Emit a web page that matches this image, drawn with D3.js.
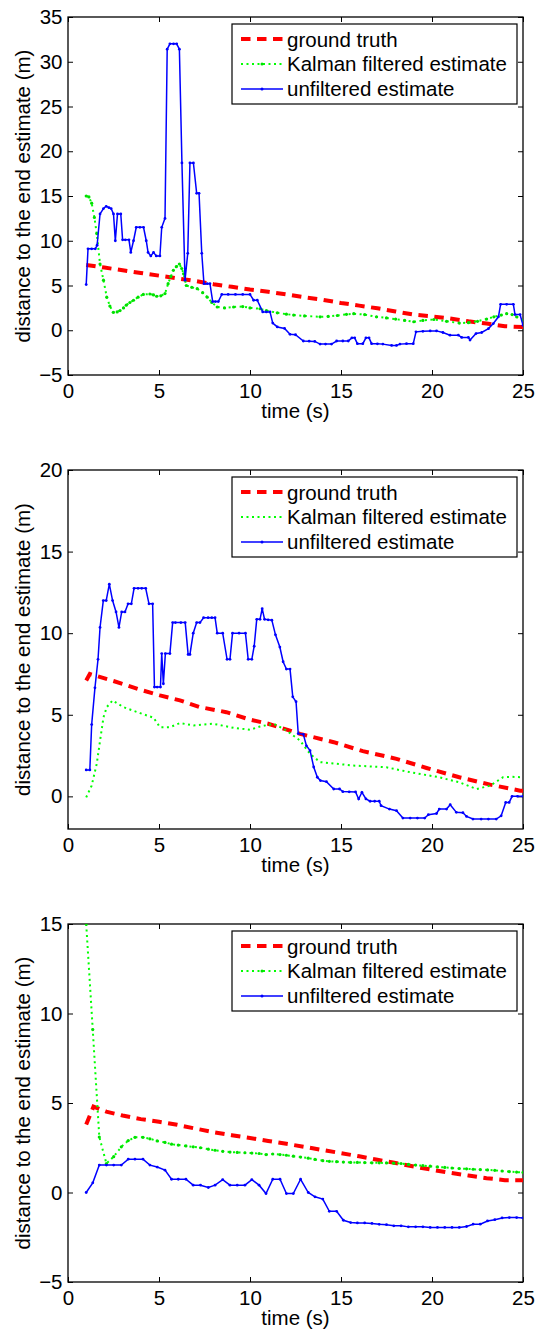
<!DOCTYPE html>
<html><head><meta charset="utf-8">
<script src="https://cdn.jsdelivr.net/npm/d3@7"></script>
<style>
body{margin:0;background:#fff}
svg{display:block}
text{font-family:"Liberation Sans",Arial,Helvetica,sans-serif;fill:#000}
</style>
</head><body>
<svg id="c" width="537" height="1334"></svg>
<script>
// ---------- text ----------
const legendLabels = ["ground truth", "Kalman filtered estimate", "unfiltered estimate"];
const xLabel = "time (s)";
const yLabel = "distance to the end estimate (m)";

// ---------- ticks ----------
const xTicks = [0, 5, 10, 15, 20, 25];
const yTicks1 = [-5, 0, 5, 10, 15, 20, 25, 30, 35];
const yTicks2 = [0, 5, 10, 15, 20];
const yTicks3 = [-5, 0, 5, 10, 15];

// ---------- panel 1 data [time, distance] ----------
const gt1 = [[1,7.3],[2,7.0],[3,6.7],[4,6.4],[5,6.1],[6,5.8],[7,5.5],[8,5.15],[9,4.85],[10,4.55],[11,4.3],[12,4.0],[13,3.68],[14,3.4],[15,3.05],[16,2.75],[17,2.45],[18,2.1],[19,1.75],[20,1.55],[21,1.32],[22,1.0],[23,0.75],[24,0.45],[25,0.35]];
const kf1 = [[1.0,15.0],[1.15,14.9],[1.3,14.2],[1.45,12.6],[1.58,10.8],[1.76,7.4],[1.95,5.6],[2.13,3.7],[2.3,2.7],[2.49,2.0],[2.7,2.05],[2.86,2.2],[3.05,2.5],[3.2,2.8],[3.4,3.1],[3.6,3.35],[3.85,3.7],[4.14,4.0],[4.5,4.05],[4.7,3.95],[4.87,3.8],[5.1,3.85],[5.33,4.1],[5.5,5.2],[5.65,6.0],[5.79,6.7],[5.95,7.1],[6.12,7.4],[6.25,6.9],[6.35,6.3],[6.5,5.0],[6.8,4.8],[7.1,4.65],[7.4,4.2],[7.65,3.7],[7.9,3.1],[8.2,2.6],[8.6,2.5],[9.1,2.6],[9.6,2.65],[10.0,2.5],[10.55,2.4],[10.9,2.2],[11.5,1.95],[12.0,1.8],[12.4,1.7],[13.0,1.6],[13.85,1.5],[14.3,1.55],[14.8,1.65],[15.3,1.78],[15.7,1.85],[16.3,1.75],[16.95,1.5],[17.5,1.38],[18.0,1.25],[18.5,1.1],[19.0,0.95],[19.5,1.1],[20.1,1.2],[20.8,1.0],[21.5,0.8],[22.0,0.85],[22.5,1.0],[23.0,1.25],[23.4,1.5],[23.8,1.7],[24.1,1.85],[24.4,1.75],[24.65,1.5],[25.0,1.1]];
const raw1 = [[1.0,5.1],[1.1,9.1],[1.3,9.1],[1.5,9.1],[1.6,9.5],[1.76,13.0],[1.95,13.6],[2.1,13.85],[2.25,13.7],[2.37,13.6],[2.5,13.0],[2.6,10.0],[2.72,13.0],[2.9,13.0],[3.0,10.1],[3.15,10.1],[3.35,10.1],[3.45,8.7],[3.6,10.0],[3.75,11.5],[3.95,11.5],[4.15,11.5],[4.3,10.0],[4.4,8.7],[4.55,8.3],[4.7,8.7],[4.85,8.3],[5.05,8.3],[5.15,11.5],[5.33,12.5],[5.45,31.4],[5.6,32.0],[5.8,32.0],[5.97,32.0],[6.12,31.4],[6.26,18.7],[6.43,5.6],[6.58,8.6],[6.7,18.7],[6.89,18.7],[7.07,15.3],[7.2,15.3],[7.35,8.6],[7.47,5.2],[7.65,5.2],[7.8,5.2],[7.95,3.2],[8.1,3.2],[8.26,3.2],[8.45,4.0],[8.8,4.0],[9.2,4.0],[9.6,4.0],[10.0,4.0],[10.2,3.35],[10.4,3.35],[10.7,2.05],[10.9,2.05],[11.1,2.05],[11.25,0.8],[11.5,0.37],[11.9,0.2],[12.2,-0.45],[12.5,-0.5],[12.93,-1.2],[13.25,-1.22],[13.56,-1.25],[13.85,-1.55],[14.15,-1.55],[14.48,-1.55],[14.76,-1.2],[15.1,-1.2],[15.4,-1.2],[15.6,-0.85],[15.75,-0.85],[15.9,-1.5],[16.2,-1.5],[16.37,-0.85],[16.54,-0.85],[16.68,-1.5],[17.0,-1.52],[17.3,-1.55],[17.78,-1.7],[18.05,-1.7],[18.24,-1.55],[18.6,-1.5],[18.97,-1.5],[19.12,-0.18],[19.5,-0.12],[19.9,-0.08],[20.25,-0.07],[20.6,-0.25],[20.99,-0.55],[21.45,-0.55],[21.63,-0.8],[22.0,-0.8],[22.09,-1.1],[22.42,-0.37],[22.73,-0.25],[23.1,0.18],[23.37,0.75],[23.65,1.5],[23.77,2.9],[24.1,2.9],[24.47,2.9],[24.56,1.75],[24.84,1.75],[25.0,0.55]];

// ---------- panel 2 data ----------
const gt2 = [[1.0,7.1],[1.2,7.5],[1.5,7.4],[2.5,7.07],[3.96,6.54],[5.05,6.19],[6.15,5.88],[7.25,5.47],[8.7,5.16],[10.0,4.7],[11.0,4.45],[12.75,3.83],[14.6,3.32],[16.2,2.77],[18.05,2.3],[19.7,1.74],[21.5,1.17],[23.2,0.72],[24.84,0.35],[25.0,0.35]];
const kf2 = [[1.0,-0.06],[1.3,0.66],[1.58,2.0],[1.76,3.4],[1.95,4.85],[2.13,5.47],[2.45,5.88],[3.04,5.47],[3.96,5.1],[4.7,4.82],[5.05,4.24],[5.6,4.24],[6.15,4.49],[6.9,4.35],[7.98,4.45],[9.1,4.2],[10.0,4.08],[10.55,4.28],[11.3,4.45],[12.0,4.04],[12.75,3.42],[13.3,2.6],[13.85,2.1],[15.67,1.89],[17.5,1.78],[18.8,1.48],[20.4,1.17],[21.5,0.86],[22.45,0.45],[23.2,0.66],[23.9,1.17],[24.4,1.2],[25.0,1.17]];
const raw2 = [[1.0,1.62],[1.2,1.62],[1.3,4.4],[1.48,6.65],[1.65,8.4],[1.76,10.35],[1.94,12.0],[2.1,12.0],[2.27,13.0],[2.45,12.0],[2.64,11.3],[2.8,10.35],[2.95,11.3],[3.13,11.3],[3.3,11.8],[3.48,11.8],[3.63,12.75],[3.85,12.75],[4.05,12.75],[4.27,12.75],[4.45,11.8],[4.65,11.8],[4.75,6.7],[4.9,6.7],[5.08,6.7],[5.15,8.75],[5.24,6.9],[5.35,8.75],[5.6,8.75],[5.75,10.65],[5.9,10.65],[6.2,10.65],[6.44,10.65],[6.6,8.7],[6.7,8.7],[6.88,10.0],[7.07,10.65],[7.25,10.65],[7.45,10.95],[7.7,10.95],[7.9,10.95],[8.08,10.95],[8.2,10.0],[8.5,10.0],[8.74,8.4],[8.9,8.4],[9.04,10.0],[9.4,10.0],[9.75,10.0],[9.9,8.4],[10.1,8.4],[10.23,9.2],[10.37,10.85],[10.55,10.85],[10.67,11.5],[10.8,10.85],[11.0,10.82],[11.2,10.8],[11.4,9.9],[11.64,9.15],[11.82,8.25],[12.0,7.8],[12.2,7.8],[12.35,6.1],[12.53,5.8],[12.65,3.85],[12.93,3.8],[13.1,3.1],[13.3,2.8],[13.5,1.8],[13.7,1.17],[13.87,0.97],[14.2,0.9],[14.6,0.45],[14.92,0.45],[15.1,0.29],[15.45,0.28],[15.8,0.27],[15.97,-0.16],[16.15,0.25],[16.37,-0.16],[16.6,-0.3],[16.85,-0.3],[17.1,-0.3],[17.2,-0.57],[17.66,-0.78],[18.05,-0.88],[18.4,-1.33],[18.8,-1.33],[19.2,-1.33],[19.6,-1.33],[19.8,-1.12],[20.25,-1.05],[20.4,-0.78],[20.8,-0.78],[21.0,-0.51],[21.34,-0.98],[21.7,-1.0],[21.9,-1.23],[22.25,-1.39],[22.7,-1.39],[23.1,-1.39],[23.53,-1.39],[23.8,-1.19],[24.05,-0.37],[24.24,-0.37],[24.4,0.0],[24.7,0.0],[25.0,0.0]];

// ---------- panel 3 data ----------
const gt3 = [[1,3.8],[1.4,4.8],[2.1,4.52],[3,4.3],[4,4.1],[5,3.95],[6,3.78],[7,3.57],[8,3.37],[9,3.2],[10,3.05],[11,2.88],[12,2.72],[13,2.55],[14,2.37],[15,2.2],[16,2.02],[17,1.83],[18,1.65],[19,1.45],[20,1.27],[21,1.1],[22,0.95],[23,0.8],[24,0.69],[25,0.69]];
const t3 = [1.0,1.36,1.72,2.11,2.51,2.93,3.31,3.68,4.12,4.5,4.9,5.33,5.69,6.06,6.48,6.88,7.28,7.71,8.08,8.5,8.9,9.3,9.72,10.1,10.5,10.88,11.25,11.65,12.0,12.38,12.78,13.2,13.57,14.0,14.36,14.76,15.13,15.53,15.9,16.3,16.7,17.1,17.5,17.9,18.3,18.7,19.1,19.5,19.9,20.3,20.7,21.1,21.5,21.9,22.26,22.65,23.05,23.45,23.85,24.25,24.65,25.0];
const kf3v = [15.0,9.1,3.1,1.62,2.0,2.55,2.9,3.08,3.08,3.0,2.88,2.8,2.7,2.65,2.6,2.55,2.5,2.42,2.36,2.3,2.26,2.24,2.22,2.2,2.18,2.12,2.15,2.12,2.08,2.03,1.98,1.92,1.85,1.78,1.74,1.72,1.7,1.68,1.68,1.67,1.66,1.66,1.65,1.64,1.62,1.57,1.53,1.5,1.47,1.43,1.4,1.37,1.34,1.32,1.3,1.28,1.26,1.24,1.2,1.17,1.14,1.12];
const raw3v = [0,0.54,1.53,1.53,1.53,1.53,1.86,1.86,1.86,1.53,1.42,1.25,0.74,0.74,0.74,0.41,0.41,0.28,0.41,0.72,0.41,0.41,0.41,0.72,0.41,-0.06,0.74,0.74,-0.06,-0.06,0.74,0.0,-0.24,-0.37,-1.05,-1.05,-1.55,-1.68,-1.7,-1.7,-1.73,-1.78,-1.8,-1.86,-1.86,-1.92,-1.92,-1.92,-1.95,-1.95,-1.95,-1.95,-1.95,-1.9,-1.77,-1.77,-1.59,-1.52,-1.42,-1.4,-1.4,-1.42];
const kf3 = d3.zip(t3, kf3v);
const raw3 = d3.zip(t3, raw3v);

// ---------- styles ----------
const RED = "#ff0000", GREEN = "#00ff00", GREEN_M = "#00e000", BLUE = "#0000ff";
const FONT = 20.5;

const svg = d3.select("#c");
const L = 68, R = 523;
const x = d3.scaleLinear().domain([0, 25]).range([L, R]);

const panels = [
  {top: 17,  bottom: 375,  ydom: [-5, 35], yticks: yTicks1, gt: gt1, kf: kf1, raw: raw1, kfMark: true},
  {top: 470, bottom: 829,  ydom: [-2, 20], yticks: yTicks2, gt: gt2, kf: kf2, raw: raw2, kfMark: false},
  {top: 924, bottom: 1282, ydom: [-5, 15], yticks: yTicks3, gt: gt3, kf: kf3, raw: raw3, kfMark: true}
];

panels.forEach((p, i) => {
  const y = d3.scaleLinear().domain(p.ydom).range([p.bottom, p.top]);
  const g = svg.append("g");
  const cid = "clip" + i;
  g.append("clipPath").attr("id", cid).append("rect")
    .attr("x", L).attr("y", p.top).attr("width", R - L).attr("height", p.bottom - p.top);

  const fmt = d3.format("");
  const axB = g.append("g").attr("transform", `translate(0,${p.bottom})`)
    .call(d3.axisBottom(x).tickValues(xTicks).tickSize(-5).tickPadding(8.7).tickFormat(fmt));
  const axT = g.append("g").attr("transform", `translate(0,${p.top})`)
    .call(d3.axisTop(x).tickValues(xTicks).tickSize(-5).tickFormat(""));
  const axLf = g.append("g").attr("transform", `translate(${L},0)`)
    .call(d3.axisLeft(y).tickValues(p.yticks).tickSize(-5).tickPadding(5.5).tickFormat(d3.format("")));
  const axRt = g.append("g").attr("transform", `translate(${R},0)`)
    .call(d3.axisRight(y).tickValues(p.yticks).tickSize(-5).tickFormat(""));
  [axB, axT, axLf, axRt].forEach(a => {
    a.select(".domain").remove();
    a.selectAll("line").attr("stroke", "#000").attr("stroke-width", 1);
    a.selectAll("text").attr("font-size", FONT).attr("font-family", '"Liberation Sans",Arial,sans-serif').attr("fill", "#000");
  });
  axLf.selectAll("text").text(d => d < 0 ? "\u2212" + Math.abs(d) : d);

  g.append("rect").attr("x", L).attr("y", p.top).attr("width", R - L).attr("height", p.bottom - p.top)
    .attr("fill", "none").attr("stroke", "#000").attr("stroke-width", 1.3);

  const line = d3.line().x(d => x(d[0])).y(d => y(d[1]));
  const plot = g.append("g").attr("clip-path", `url(#${cid})`);

  plot.append("path").datum(p.gt).attr("d", line).attr("fill", "none")
    .attr("stroke", RED).attr("stroke-width", 4).attr("stroke-dasharray", "9.5,6.5");

  plot.append("path").datum(p.kf).attr("d", line).attr("fill", "none")
    .attr("stroke", GREEN).attr("stroke-width", 2).attr("stroke-dasharray", "2,3.5");
  if (p.kfMark) {
    plot.append("g").selectAll("circle").data(p.kf).join("circle")
      .attr("cx", d => x(d[0])).attr("cy", d => y(d[1])).attr("r", 1.6).attr("fill", GREEN_M);
  }

  plot.append("path").datum(p.raw).attr("d", line).attr("fill", "none")
    .attr("stroke", BLUE).attr("stroke-width", 1.5);
  plot.append("g").selectAll("circle").data(p.raw).join("circle")
    .attr("cx", d => x(d[0])).attr("cy", d => y(d[1])).attr("r", 1.4).attr("fill", BLUE);

  g.append("text").attr("x", (L + R) / 2).attr("y", p.bottom + 43)
    .attr("text-anchor", "middle").attr("font-size", FONT).text(xLabel);
  g.append("text").attr("transform", `translate(30,${(p.top + p.bottom) / 2}) rotate(-90)`)
    .attr("text-anchor", "middle").attr("font-size", FONT).text(yLabel);

  const lt = p.top + 7;
  const lg = g.append("g");
  lg.append("rect").attr("x", 232).attr("y", lt).attr("width", 285).attr("height", 80)
    .attr("fill", "#fff").attr("stroke", "#000").attr("stroke-width", 1.2);
  const styles = [
    {c: RED, w: 4, dash: "9.5,6.5", mark: false},
    {c: GREEN, w: 2, dash: "2,3.5", mark: p.kfMark, mc: GREEN_M},
    {c: BLUE, w: 1.5, dash: null, mark: true, mc: BLUE}
  ];
  legendLabels.forEach((lab, k) => {
    const ly = lt + 15 + k * 25;
    const s = styles[k];
    lg.append("line").attr("x1", 241).attr("x2", 283).attr("y1", ly).attr("y2", ly)
      .attr("stroke", s.c).attr("stroke-width", s.w).attr("stroke-dasharray", s.dash);
    if (s.mark) lg.append("circle").attr("cx", 262).attr("cy", ly).attr("r", 1.5).attr("fill", s.mc);
    lg.append("text").attr("x", 287).attr("y", lt + 22.5 + k * 24.7).attr("font-size", FONT).text(lab);
  });
});
</script>
</body></html>
